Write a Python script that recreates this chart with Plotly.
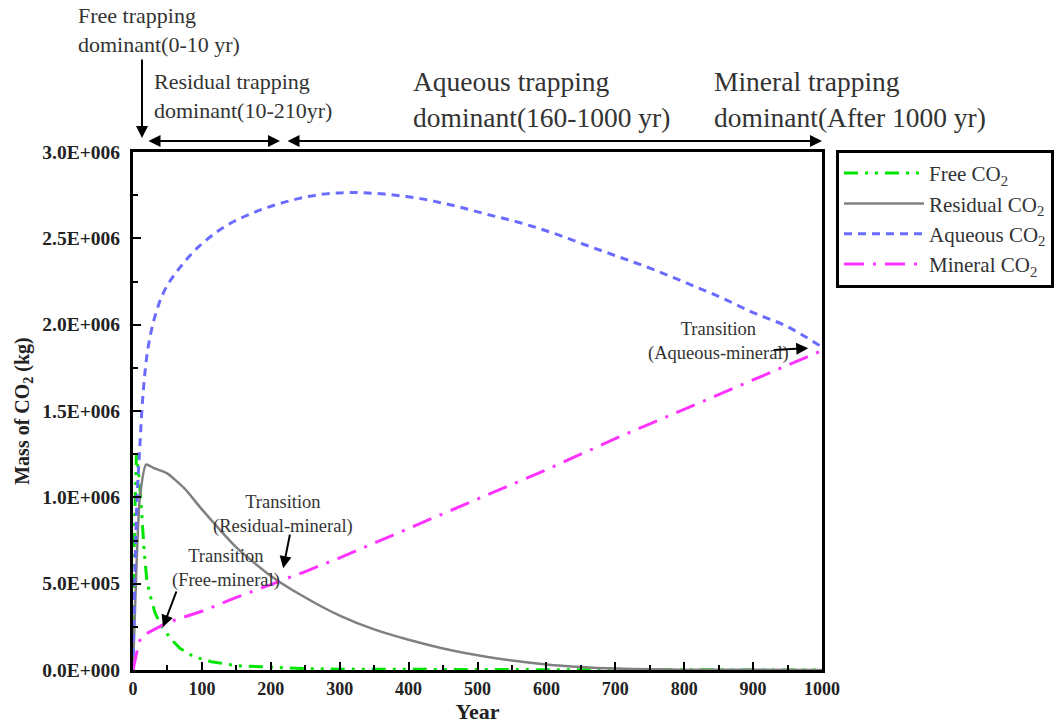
import plotly.graph_objects as go

# ---------------- data ----------------
free_year = [0, 2, 5, 8, 12, 16, 20, 25, 32, 42, 55, 68, 88, 114, 150, 200, 250, 300, 400, 500, 600, 700, 800, 900, 1000]
free_mass = [0, 8.0e5, 1.25e6, 1.15e6, 9.5e5, 7.0e5, 5.2e5, 4.3e5, 3.3e5, 2.5e5, 1.8e5, 1.26e5, 7.7e4, 4.8e4, 2.5e4,
             1.5e4, 8e3, 5e3, 3e3, 2e3, 1.5e3, 1e3, 8e2, 6e2, 5e2]

resid_year = [0, 5, 10, 19, 30, 49, 75, 100, 150, 200, 250, 300, 350, 400, 450, 500, 550, 600, 650, 700, 750, 800,
              900, 1000]
resid_mass = [0, 6.0e5, 1.0e6, 1.19e6, 1.17e6, 1.14e6, 1.05e6, 9.3e5, 7.1e5, 5.45e5, 4.2e5, 3.15e5, 2.35e5, 1.75e5,
              1.25e5, 8.5e4, 5.5e4, 3.2e4, 1.7e4, 8e3, 4e3, 2e3, 1e3, 5e2]

aq_year = [0, 3, 6, 10, 15, 22, 32, 46, 66, 95, 134, 182, 230, 274, 320, 368, 417, 465, 513, 562, 610, 658, 707,
           755, 804, 852, 900, 949, 1000]
aq_mass = [0, 6.0e5, 1.0e6, 1.30e6, 1.62e6, 1.87e6, 2.05e6, 2.20e6, 2.32e6, 2.45e6, 2.57e6, 2.66e6, 2.72e6, 2.755e6,
           2.765e6, 2.755e6, 2.73e6, 2.69e6, 2.64e6, 2.59e6, 2.53e6, 2.46e6, 2.39e6, 2.32e6, 2.24e6, 2.16e6,
           2.07e6, 1.99e6, 1.87e6]

min_year = [0, 3, 8, 12, 50, 100, 150, 200, 250, 300, 400, 500, 600, 700, 800, 900, 1000]
min_mass = [0, 5e4, 1.5e5, 1.95e5, 2.75e5, 3.4e5, 4.2e5, 4.95e5, 5.7e5, 6.5e5, 8.2e5, 9.9e5, 1.16e6, 1.34e6,
            1.51e6, 1.68e6, 1.85e6]

y_tickvals = [0, 5e5, 1e6, 1.5e6, 2e6, 2.5e6, 3e6]
y_ticktext = ["0.0E+000", "5.0E+005", "1.0E+006", "1.5E+006", "2.0E+006", "2.5E+006", "3.0E+006"]
x_tickvals = [0, 100, 200, 300, 400, 500, 600, 700, 800, 900, 1000]

FONT = "Liberation Serif"

fig = go.Figure()
fig.add_trace(go.Scatter(x=free_year, y=free_mass, mode="lines", name="Free CO<sub>2</sub>",
                         line=dict(color="#00e600", width=3, dash="14px,7px,3px,7px,3px,7px")))
fig.add_trace(go.Scatter(x=resid_year, y=resid_mass, mode="lines", name="Residual CO<sub>2</sub>",
                         line=dict(color="#808080", width=2.5, shape="spline", smoothing=0.6)))
fig.add_trace(go.Scatter(x=aq_year, y=aq_mass, mode="lines", name="Aqueous CO<sub>2</sub>",
                         line=dict(color="#6b6bff", width=3, dash="8px,6px", shape="spline")))
fig.add_trace(go.Scatter(x=min_year, y=min_mass, mode="lines", name="Mineral CO<sub>2</sub>",
                         line=dict(color="#ff33ff", width=3, dash="20px,9px,3px,9px")))

fig.update_layout(
    width=1059, height=727,
    margin=dict(l=133, r=237, t=152, b=57, autoexpand=False),
    paper_bgcolor="white", plot_bgcolor="white",
    font=dict(family=FONT, color="#222", size=16),
    showlegend=True,
    legend=dict(x=1.0203, y=1.004, xanchor="left", yanchor="top",
                bordercolor="black", borderwidth=3, bgcolor="white", itemwidth=80,
                tracegroupgap=0,
                font=dict(family=FONT, size=21, color="#333")),
)

fig.update_xaxes(range=[0, 1000], tickvals=x_tickvals, ticks="inside", ticklen=8, tickwidth=2,
                 tickcolor="black", showline=True, linecolor="black", linewidth=3, mirror=True,
                 showgrid=False, zeroline=False,
                 minor=dict(dtick=50, ticks="inside", ticklen=5, tickwidth=2, tickcolor="black"),
                 tickfont=dict(family=FONT, size=18, color="#222", weight="bold"),
                 title=dict(text="<b>Year</b>", font=dict(family=FONT, size=22, color="#222"), standoff=2))

fig.update_yaxes(range=[0, 3e6], tickvals=y_tickvals, ticktext=y_ticktext, ticks="inside", ticklen=8,
                 tickwidth=2, tickcolor="black", showline=True, linecolor="black", linewidth=3, mirror=True,
                 showgrid=False, zeroline=False, ticklabelstandoff=6,
                 minor=dict(dtick=2.5e5, ticks="inside", ticklen=5, tickwidth=2, tickcolor="black"),
                 tickfont=dict(family=FONT, size=19.5, color="#222", weight="bold"),
                 title=dict(text="<b>Mass of CO<sub>2</sub> (kg)</b>", font=dict(family=FONT, size=20, color="#222"),
                            standoff=8))

def px_x(px):
    return (px - 133) / 689.0

def px_y(py):
    return (670 - py) / 518.0

# top region labels
top_labels = [
    ("Free trapping<br>dominant(0-10 yr)", 76, 30, 22),
    ("Residual trapping<br>dominant(10-210yr)", 152, 96, 22),
    ("Aqueous trapping<br>dominant(160-1000 yr)", 411, 100, 27.5),
    ("Mineral trapping<br>dominant(After 1000 yr)", 712, 100, 27.5),
]
for txt, lx, cy, fs in top_labels:
    fig.add_annotation(text=txt, xref="paper", yref="paper", x=px_x(lx), y=px_y(cy),
                       xanchor="left", yanchor="middle", align="left", showarrow=False,
                       font=dict(family=FONT, size=fs, color="#333"))

# top arrows
fig.add_annotation(text="", xref="paper", yref="paper", x=px_x(142), y=px_y(138), ax=0, ay=-80,
                   showarrow=True, arrowhead=2, arrowsize=1.2, arrowwidth=2, arrowcolor="black")
fig.add_annotation(text="", xref="paper", yref="paper", x=px_x(280), y=px_y(141), ax=-133, ay=0,
                   showarrow=True, arrowhead=2, startarrowhead=2, arrowside="end+start",
                   arrowsize=1.2, arrowwidth=2, arrowcolor="black")
fig.add_annotation(text="", xref="paper", yref="paper", x=px_x(822), y=px_y(141), ax=-536, ay=0,
                   showarrow=True, arrowhead=2, startarrowhead=2, arrowside="end+start",
                   arrowsize=1.2, arrowwidth=2, arrowcolor="black")

# transition labels
trans = [
    ("Transition<br>(Free-mineral)", 135, 5.85e5),
    ("Transition<br>(Residual-mineral)", 218, 9.03e5),
    ("Transition<br>(Aqueous-mineral)", 850, 1.905e6),
]
for txt, xv, yv in trans:
    fig.add_annotation(text=txt, x=xv, y=yv, xref="x", yref="y", showarrow=False,
                       font=dict(family=FONT, size=18.5, color="#333"))

# transition arrows (head on data point, tail offset in pixels)
tarrows = [(43.5, 2.49e5, 14, -37), (218, 5.9e5, 7, -35), (980, 1.864e6, -36, 2)]
for xv, yv, axp, ayp in tarrows:
    fig.add_annotation(text="", x=xv, y=yv, xref="x", yref="y", ax=axp, ay=ayp, showarrow=True,
                       arrowhead=2, arrowsize=1.2, arrowwidth=2, arrowcolor="black")

fig.write_html("out.html")
